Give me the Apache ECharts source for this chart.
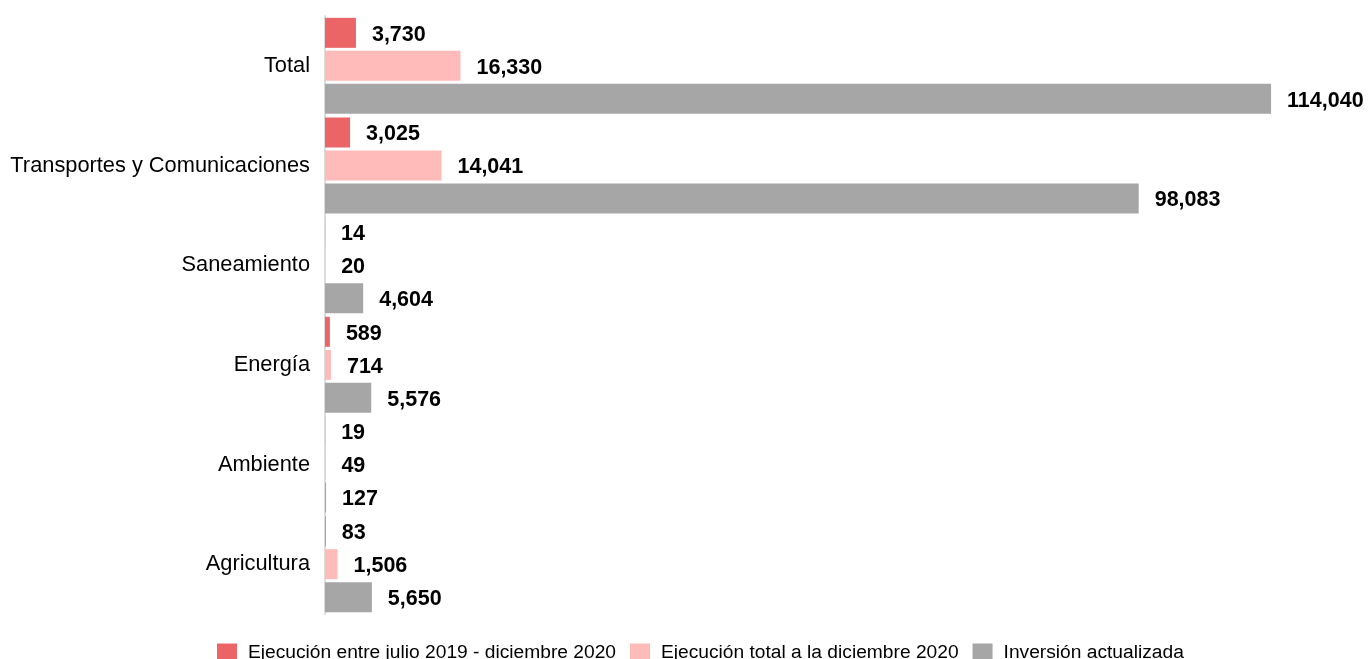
<!DOCTYPE html>
<html><head><meta charset="utf-8">
<script src="https://cdn.jsdelivr.net/npm/echarts@6/dist/echarts.min.js"></script>
<style>html,body{margin:0;padding:0;background:#fff}#c{width:1368px;height:659px}</style>
</head><body><div id="c"></div>
<script>
const categories = ["Total", "Transportes y Comunicaciones", "Saneamiento", "Energía", "Ambiente", "Agricultura"];
const seriesNames = ["Ejecución entre julio 2019 - diciembre 2020", "Ejecución total a la diciembre 2020", "Inversión actualizada"];
const ejecucionJulio = [3730, 3025, 14, 589, 19, 83];
const ejecucionTotal = [16330, 14041, 20, 714, 49, 1506];
const inversionActualizada = [114040, 98083, 4604, 5576, 127, 5650];
const colors = ["#EB6466", "#FFBABA", "#A6A6A6"];

const fmt = v => v.toString().replace(/\B(?=(\d{3})+(?!\d))/g, ",");
const mk = (name, data, color) => ({
  name, type: 'bar', data, barWidth: 30, barGap: '10%',
  itemStyle: {color},
  label: {show: true, position: 'right', distance: 16, offset: [0, 2], fontFamily: 'Liberation Sans, Arial, sans-serif',
    fontWeight: 'bold', fontSize: 21.5, color: '#000', formatter: p => fmt(p.value)}
});
const chart = echarts.init(document.getElementById('c'), null, {renderer: 'canvas'});
chart.setOption({
  animation: false,
  textStyle: {fontFamily: 'Liberation Sans, Arial, sans-serif'},
  grid: {left: 325, top: 16, height: 598, width: 995.5},
  xAxis: {type: 'value', min: 0, max: 120000, show: false},
  yAxis: {type: 'category', data: categories, inverse: true,
    axisLine: {show: true, lineStyle: {color: '#DDDDDD', width: 2}},
    axisTick: {show: false},
    axisLabel: {fontSize: 21.8, color: '#000', margin: 15, lineHeight: 28, padding: [5, 0, 0, 0], fontFamily: 'Liberation Sans, Arial, sans-serif'}},
  legend: {top: 638, left: 212, itemWidth: 20, itemHeight: 18, itemGap: 14, icon: 'rect',
    textStyle: {fontSize: 19.2, color: '#000', padding: [0, 0, 0, 6], fontFamily: 'Liberation Sans, Arial, sans-serif'}},
  series: [mk(seriesNames[0], ejecucionJulio, colors[0]), mk(seriesNames[1], ejecucionTotal, colors[1]), mk(seriesNames[2], inversionActualizada, colors[2])]
});
</script></body></html>
